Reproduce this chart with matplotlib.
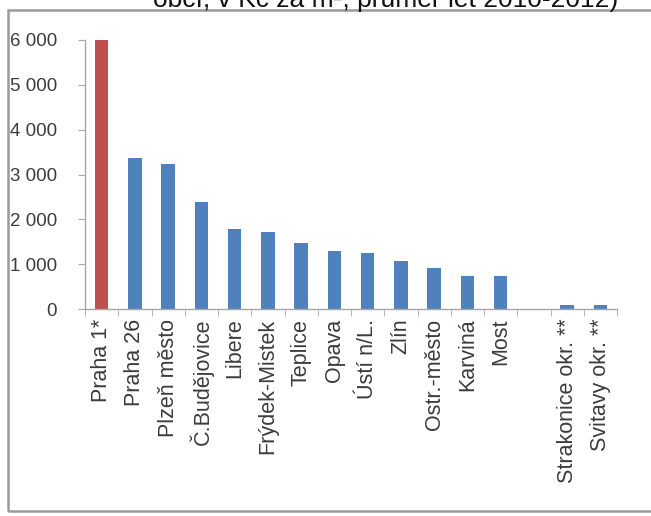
import numpy as np
import matplotlib.pyplot as plt
from matplotlib.patches import Rectangle
from matplotlib.ticker import FuncFormatter, FixedLocator

plt.rcParams['font.family'] = ['Liberation Sans', 'DejaVu Sans']

# prices per m2 (Kc), average 2010-2012
cities = ["Praha 1*", "Praha 26", "Plzeň město", "Č.Budějovice", "Libere",
          "Frýdek-Mistek", "Teplice", "Opava", "Ústí n/L.", "Zlín",
          "Ostr.-město", "Karviná", "Most"]
city_values = [6000, 3360, 3240, 2380, 1780, 1710, 1470, 1300, 1260, 1080,
               910, 740, 740]
districts = ["Strakonice okr. **", "Svitavy okr. **"]
district_values = [80, 80]
yticks = [0, 1000, 2000, 3000, 4000, 5000, 6000]

red = '#C0504D'
blue = '#4F81BD'
axis_grey = '#a6a6a6'
text_grey = '#3c3c3c'

fig = plt.figure(figsize=(6.51, 5.16), dpi=100)

# outer frame of the chart area
fig.patches.append(Rectangle((8 / 651, 1 - 511 / 516), 700 / 651, 501 / 516,
                             transform=fig.transFigure, fill=False,
                             edgecolor='#9a9a9a', lw=1.8, zorder=0))

fig.text(153 / 651, 1 - 7 / 516, "obcí, v Kč za m², průměr let 2010-2012)",
         fontsize=19, color='#111111', ha='left', va='baseline')

ax = fig.add_axes([85 / 651, 1 - 309 / 516, 532 / 651, 269 / 516])

# one empty slot between the cities and the districts
city_pos = np.arange(len(cities))
district_pos = len(cities) + 1 + np.arange(len(districts))
colors = [red] + [blue] * (len(cities) - 1)

ax.bar(city_pos, city_values, width=0.4, color=colors, zorder=2)
ax.bar(district_pos, district_values, width=0.4, color=blue, zorder=2)

n_slots = len(cities) + 1 + len(districts)
ax.set_xlim(-0.5, n_slots - 0.5)
ax.set_ylim(0, 6000)

ax.set_xticks(np.concatenate([city_pos, district_pos]))
ax.set_xticklabels(cities + districts, rotation=90, fontsize=15.5,
                   color=text_grey, va='top', ha='center')
ax.xaxis.set_minor_locator(FixedLocator(np.arange(n_slots + 1) - 0.5))
ax.tick_params(axis='x', which='major', length=0, pad=7)
ax.tick_params(axis='x', which='minor', length=5, color=axis_grey, direction='out')

ax.set_yticks(yticks)
ax.yaxis.set_major_formatter(FuncFormatter(lambda v, p: f"{int(v):,}".replace(",", " ")))
ax.tick_params(axis='y', length=5, color=axis_grey, direction='out', pad=15,
               labelsize=13.5, labelcolor=text_grey)

for side in ['top', 'right']:
    ax.spines[side].set_visible(False)
for side in ['left', 'bottom']:
    ax.spines[side].set_color(axis_grey)
    ax.spines[side].set_linewidth(1)

fig.savefig('out.png', dpi=100)
